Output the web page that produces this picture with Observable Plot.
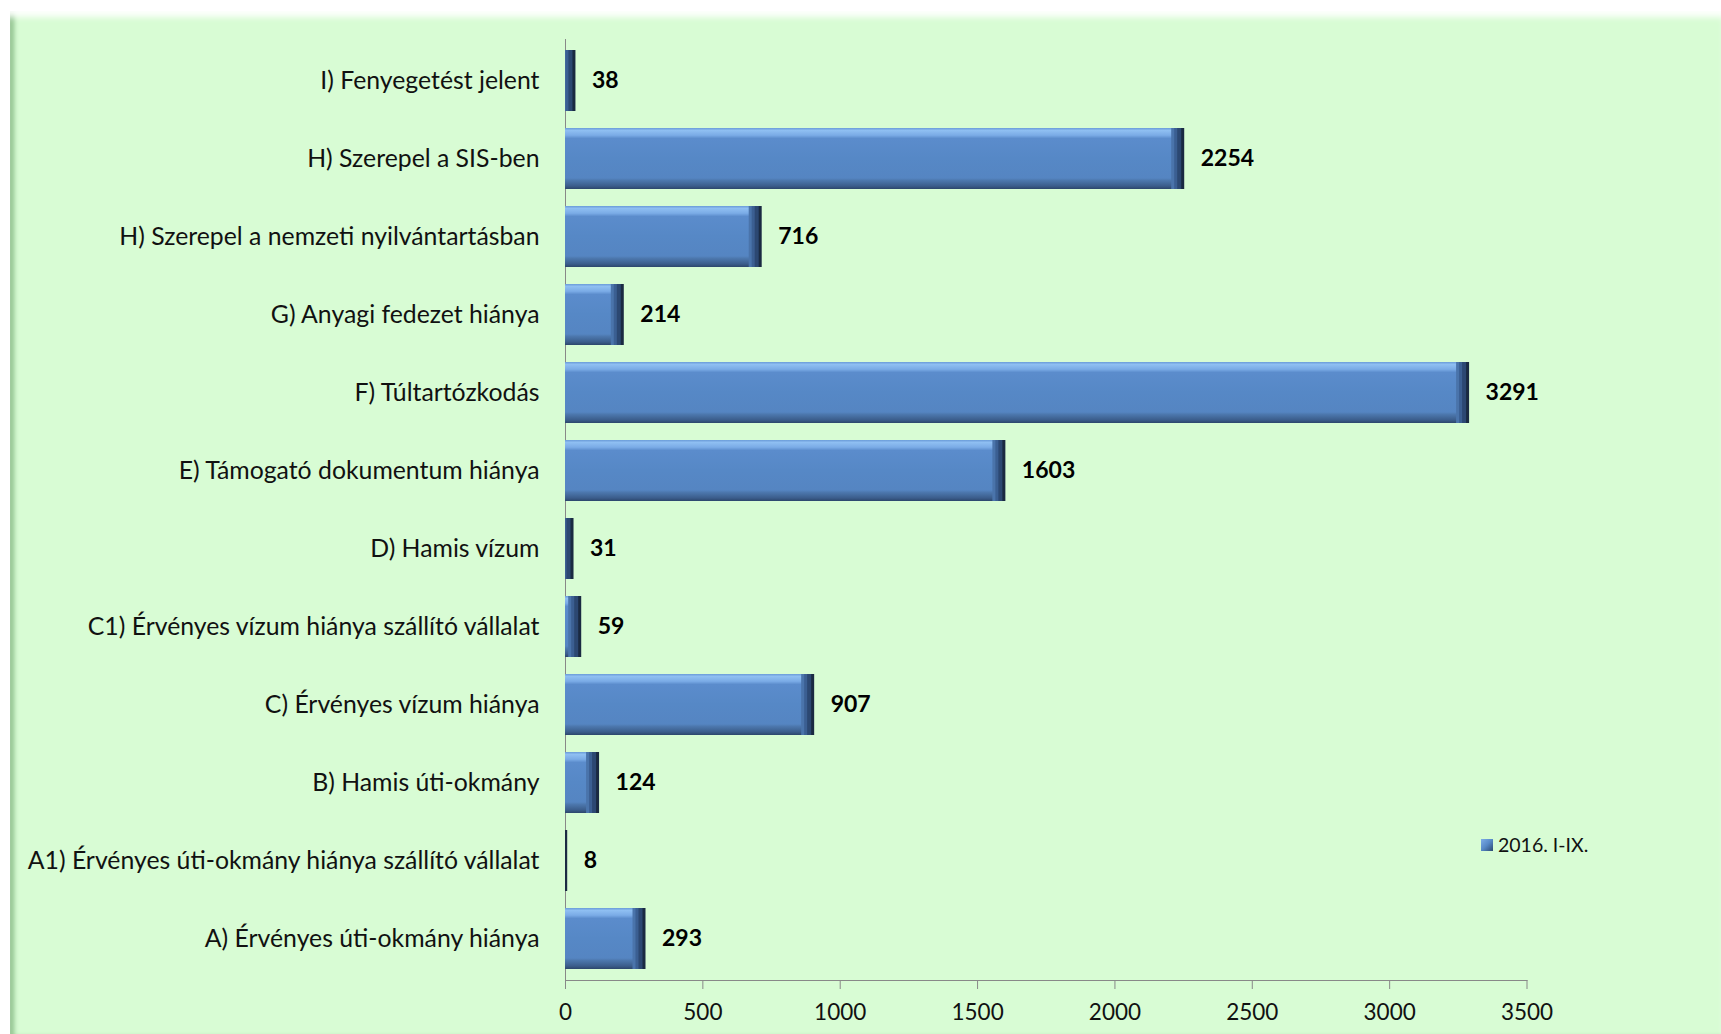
<!DOCTYPE html>
<html>
<head>
<meta charset="utf-8">
<script src="https://cdn.jsdelivr.net/npm/d3@7"></script>
<script src="https://cdn.jsdelivr.net/npm/@observablehq/plot@0.6"></script>
<style>
  html, body { margin: 0; padding: 0; background: #ffffff; }
  #page { position: relative; width: 1721px; height: 1034px; overflow: hidden; background: #ffffff; }
  #panel {
    position: absolute; left: 10px; top: 11px; width: 1711px; height: 1023px;
    background: #d8fcd4;
    box-shadow: inset 0 9px 6px -3px rgba(255,255,255,0.95), inset 7px 0 5px -3px #8cbf89;
  }
  #chart { position: absolute; left: 0; top: 0; }
  #legend {
    position: absolute; left: 1481px; top: 833px;
    font-family: "Lato", "Open Sans", sans-serif; font-size: 19.5px; color: #111;
    display: flex; align-items: center; gap: 5px;
  }
  #legend .sw { width: 12px; height: 12px; background: linear-gradient(135deg, #7eaee8 0%, #5688c6 50%, #2b4870 100%); }
</style>
</head>
<body>
<div id="page">
  <div id="panel"></div>
  <div id="chart"></div>
  <div id="legend"><span class="sw"></span><span id="legendText"></span></div>
</div>
<script>
const categories = [
  "I) Fenyegetést jelent",
  "H) Szerepel a SIS-ben",
  "H) Szerepel a nemzeti nyilvántartásban",
  "G) Anyagi fedezet hiánya",
  "F) Túltartózkodás",
  "E) Támogató dokumentum hiánya",
  "D) Hamis vízum",
  "C1) Érvényes vízum hiánya szállító vállalat",
  "C) Érvényes vízum hiánya",
  "B) Hamis úti-okmány",
  "A1) Érvényes úti-okmány hiánya szállító vállalat",
  "A) Érvényes úti-okmány hiánya"
];
const values = [38, 2254, 716, 214, 3291, 1603, 31, 59, 907, 124, 8, 293];
const seriesName = "2016. I-IX.";
const xTicks = [0, 500, 1000, 1500, 2000, 2500, 3000, 3500];

const data = categories.map((c, i) => ({category: c, value: values[i]}));
document.getElementById("legendText").textContent = seriesName;

const font = "Lato, 'Open Sans', sans-serif";

const chart = Plot.plot({
  width: 1721,
  height: 1034,
  marginLeft: 565,
  marginRight: 194.5,
  marginTop: 39,
  marginBottom: 54,
  style: {background: "transparent", fontFamily: font, color: "#000"},
  x: {domain: [0, 3500]},
  y: {domain: categories, paddingInner: 0.22, paddingOuter: 0.11},
  marks: [
    Plot.axisY({tickSize: 0, tickPadding: 26, fontSize: 24.8, label: null, fill: "#111"}),
    Plot.axisX({ticks: xTicks, tickFormat: d => String(d), tickSize: 9, tickPadding: 15, fontSize: 22.5, label: null, stroke: "#888", fill: "#111"}),
    Plot.frame({anchor: "bottom", stroke: "#888"}),
    Plot.ruleX([0], {stroke: "#888"}),
    Plot.barX(data, {x: "value", y: "category", fill: "#1a2a42"}),
    Plot.barX(data, {x: "value", y: "category", fill: "#2c4872", insetRight: 3}),
    Plot.barX(data, {x: "value", y: "category", fill: "#3b5f92", insetRight: 7}),
    Plot.barX(data, {x: "value", y: "category", fill: "#4a74ab", insetRight: 10}),
    Plot.barX(data, {x: "value", y: "category", fill: "url(#barGrad)", insetRight: 13}),
    Plot.text(data, {x: "value", y: "category", text: d => String(d.value), dx: 16, textAnchor: "start", fontWeight: "bold", fontSize: 23, fill: "#000"})
  ]
});

const ns = "http://www.w3.org/2000/svg";
const defs = document.createElementNS(ns, "defs");
defs.innerHTML = `
  <linearGradient id="barGrad" x1="0" y1="0" x2="0" y2="1">
    <stop offset="0" stop-color="#6a9bd8"/>
    <stop offset="0.04" stop-color="#8fbff2"/>
    <stop offset="0.12" stop-color="#7aabe6"/>
    <stop offset="0.17" stop-color="#5b8ccc"/>
    <stop offset="0.5" stop-color="#5688c6"/>
    <stop offset="0.82" stop-color="#5585c2"/>
    <stop offset="0.86" stop-color="#4c77ad"/>
    <stop offset="0.95" stop-color="#3b5d8b"/>
    <stop offset="1" stop-color="#2c466b"/>
  </linearGradient>`;
chart.insertBefore(defs, chart.firstChild);
document.getElementById("chart").appendChild(chart);
</script>
</body>
</html>
